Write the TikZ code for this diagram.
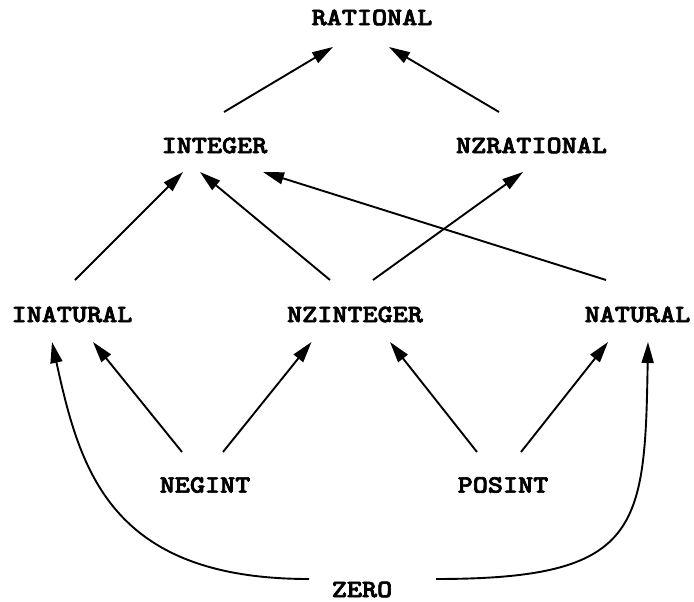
\documentclass[tikz,border=0pt]{standalone}
\usepackage{fontspec}
\newfontfamily\darktt{lmmonolt10-bold.otf}[FakeBold=2.5]
\usetikzlibrary{arrows.meta,calc}
\newcommand{\lbltext}[1]{\scalebox{1.15}[1]{#1}}
\tikzset{
  lbl/.style={inner sep=0pt, anchor=center, font=\darktt\fontsize{25}{30}\selectfont},
  edge/.style={line width=1.9pt, -{Triangle[length=21pt,width=12pt]}},
}
\begin{document}
\begin{tikzpicture}[x=1pt,y=-1pt]
\useasboundingbox (0,0) rectangle (694,602);
\node[lbl] (rat)  at (372,17.5)   {\lbltext{RATIONAL}};
\node[lbl] (int)  at (214.5,145.5) {\lbltext{INTEGER}};
\node[lbl] (nzr)  at (531.5,145.5) {\lbltext{NZRATIONAL}};
\node[lbl] (inat) at (72,314.5)   {\lbltext{INATURAL}};
\node[lbl] (nzi)  at (355,314.5)  {\lbltext{NZINTEGER}};
\node[lbl] (nat)  at (637.5,314.5) {\lbltext{NATURAL}};
\node[lbl] (neg)  at (205,485)    {\lbltext{NEGINT}};
\node[lbl] (pos)  at (503,485)    {\lbltext{POSINT}};
\node[lbl] (zero) at (362,589.5)  {\lbltext{ZERO}};

\draw[edge] ($(int)+(9.5,-33.5)$) -- ($(rat)+(-39,29.5)$);
\draw[edge] ($(nzr)+(-32.5,-33.5)$) -- ($(rat)+(17,29.5)$);
\draw[edge] ($(inat)+(3,-34.5)$) -- ($(int)+(-31.5,26.5)$);
\draw[edge] ($(nzi)+(-25,-34.5)$) -- ($(int)+(-14.5,26.5)$);
\draw[edge] ($(nat)+(-31.5,-34.5)$) -- ($(int)+(48.5,26.5)$);
\draw[edge] ($(nzi)+(18,-34.5)$) -- ($(nzr)+(-8.5,26.5)$);
\draw[edge] ($(neg)+(-23,-33)$) -- ($(inat)+(21,27.5)$);
\draw[edge] ($(neg)+(18,-33)$) -- ($(nzi)+(-43.5,27.5)$);
\draw[edge] ($(pos)+(-26,-33)$) -- ($(nzi)+(35,27.5)$);
\draw[edge] ($(pos)+(18,-33)$) -- ($(nat)+(-29.5,27.5)$);
\draw[edge] ($(zero)+(-53,-10.5)$) .. controls (110,579) and (80,470) .. ($(inat)+(-20,27.5)$);
\draw[edge] ($(zero)+(74,-10.5)$) .. controls (640,579) and (645,530) .. ($(nat)+(10.5,27.5)$);
\end{tikzpicture}
\end{document}
